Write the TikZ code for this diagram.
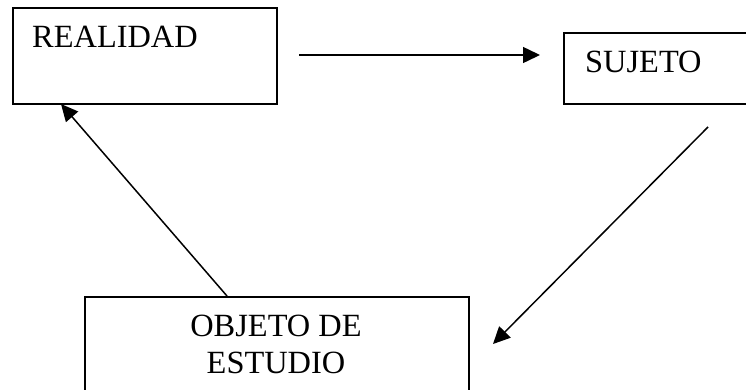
\documentclass[tikz,border=0pt]{standalone}
\usepackage{fontspec}
\setmainfont{Liberation Serif}
\usetikzlibrary{arrows.meta}
\begin{document}
\begin{tikzpicture}[x=1pt,y=-1pt,
  box/.style={draw=black,line width=1.6pt,rectangle,inner sep=0pt},
  lbl/.style={inner sep=0pt,font=\fontsize{32.4}{37}\selectfont},
  conn/.style={line width=1.5pt,-{Triangle[length=17pt,width=16pt]}}]
\useasboundingbox (0,0) rectangle (746,389);
\clip (0,0) rectangle (746,389);
\fill[white] (0,0) rectangle (746,389);
% boxes
\node[box,minimum width=264pt,minimum height=96pt,anchor=north west] (realidad) at (12,7) {};
\node[box,minimum width=220pt,minimum height=71pt,anchor=north west] (sujeto) at (563,32) {};
\node[box,minimum width=384pt,minimum height=140pt,anchor=north west] (objeto) at (84,296) {};
% texts
\node[lbl,anchor=base west] (trealidad) at (32,47) {REALIDAD};
\node[lbl,anchor=base west] (tsujeto) at (585,72) {SUJETO};
\node[lbl,anchor=base] (tobjeto1) at (276,336) {OBJETO DE};
\node[lbl,anchor=base] (tobjeto2) at (276,373) {ESTUDIO};
% connector end points
\coordinate (a1) at (299,55);
\coordinate (a2) at (540,55);
\coordinate (b1) at (708,127);
\coordinate (b2) at (493,344);
\coordinate (c1) at (227,296);
\coordinate (c2) at (61,104);
\draw[conn] (a1) -- (a2);
\draw[conn] (b1) -- (b2);
\draw[conn] (c1) -- (c2);
\end{tikzpicture}
\end{document}
